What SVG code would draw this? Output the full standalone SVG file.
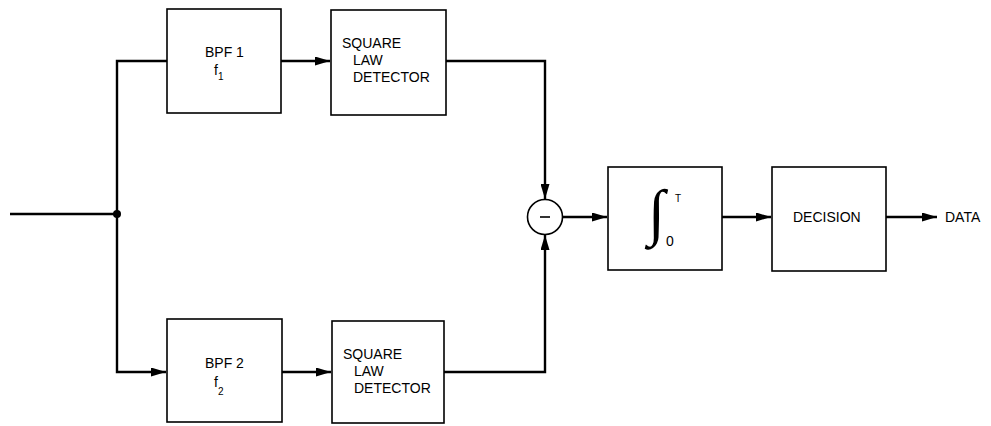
<svg xmlns="http://www.w3.org/2000/svg" width="991" height="426" viewBox="0 0 991 426">
<style>
.box{fill:none;stroke:#000;stroke-width:1.6}
.ln{fill:none;stroke:#000;stroke-width:2.4}
text{font-family:"Liberation Sans",Arial,sans-serif;font-size:14px;fill:#000}
.sub{font-size:10px}
</style>
<defs>
<marker id="ah" viewBox="0 0 15 9" refX="15" refY="4.5" markerWidth="15" markerHeight="9" markerUnits="userSpaceOnUse" orient="auto">
<path d="M0,0 L15,4.5 L0,9 Z" fill="#000"/>
</marker>
</defs>
<rect width="991" height="426" fill="#fff"/>
<g id="connectors">
<path class="ln" d="M10,214 H117"/>
<path class="ln" d="M167,61 H117 V372 H166" marker-end="url(#ah)"/>
<path class="ln" d="M281,61 H330" marker-end="url(#ah)"/>
<path class="ln" d="M282,372 H331" marker-end="url(#ah)"/>
<path class="ln" d="M446,61 H545 V199" marker-end="url(#ah)"/>
<path class="ln" d="M444,372 H545 V235" marker-end="url(#ah)"/>
<path class="ln" d="M563,217 H607" marker-end="url(#ah)"/>
<path class="ln" d="M722,217 H771" marker-end="url(#ah)"/>
<path class="ln" d="M886,217 H937" marker-end="url(#ah)"/>
<circle cx="117" cy="214" r="4" fill="#000"/>
</g>
<g id="bpf1">
<rect class="box" x="167" y="9" width="114" height="104"/>
<text x="205" y="57">BPF 1</text>
<text x="214" y="75">f<tspan class="sub" dy="5">1</tspan></text>
</g>
<g id="sld1">
<rect class="box" x="331" y="10" width="115" height="105"/>
<text x="342" y="48">SQUARE</text>
<text x="353" y="65">LAW</text>
<text x="353" y="82">DETECTOR</text>
</g>
<g id="bpf2">
<rect class="box" x="167" y="319" width="115" height="103"/>
<text x="205" y="368">BPF 2</text>
<text x="214" y="387">f<tspan class="sub" dy="8">2</tspan></text>
</g>
<g id="sld2">
<rect class="box" x="332" y="321" width="112" height="102"/>
<text x="343" y="359">SQUARE</text>
<text x="354" y="376">LAW</text>
<text x="354" y="393">DETECTOR</text>
</g>
<g id="subtractor">
<circle class="box" cx="545" cy="217" r="17.5"/>
<path d="M540,217 H550" stroke="#000" stroke-width="1.6"/>
</g>
<g id="integrator">
<rect class="box" x="608" y="167" width="114" height="103"/>
<text x="648" y="233" style="font-family:'Liberation Serif',serif;font-size:62px">∫</text>
<text x="675" y="202" style="font-size:10px">T</text>
<text x="666" y="246">0</text>
</g>
<g id="decision">
<rect class="box" x="772" y="167" width="114" height="104"/>
<text x="793" y="222">DECISION</text>
</g>
<g id="data">
<text x="945" y="222">DATA</text>
</g>
</svg>
